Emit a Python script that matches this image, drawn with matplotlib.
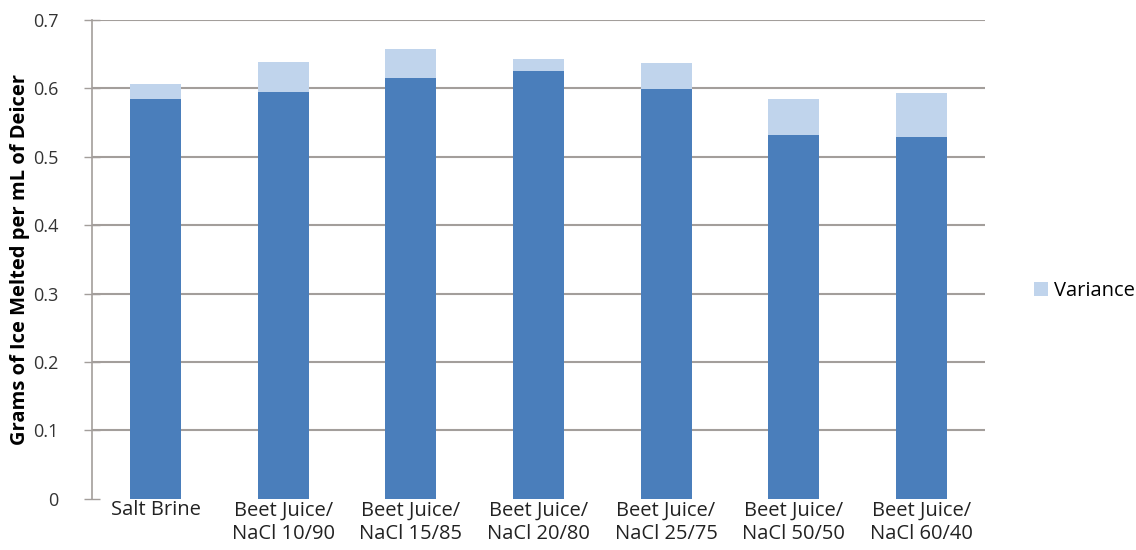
import matplotlib
matplotlib.use("Agg")
import matplotlib.pyplot as plt
import numpy as np

categories = ["Salt Brine", "Beet Juice/\nNaCl 10/90", "Beet Juice/\nNaCl 15/85", "Beet Juice/\nNaCl 20/80",
              "Beet Juice/\nNaCl 25/75", "Beet Juice/\nNaCl 50/50", "Beet Juice/\nNaCl 60/40"]
melted = [0.585, 0.594, 0.615, 0.625, 0.599, 0.531, 0.529]
variance = [0.021, 0.045, 0.043, 0.017, 0.038, 0.053, 0.064]
yticks = [0, 0.1, 0.2, 0.3, 0.4, 0.5, 0.6, 0.7]

DARK = "#4A7EBB"
LIGHT = "#C0D4EC"
GRID = "#A39E9B"

plt.rcParams["font.family"] = ["Open Sans", "DejaVu Sans"]

fig = plt.figure(figsize=(11.36, 5.5), dpi=100)
ax = fig.add_axes([0.081, 0.093, 0.786, 0.871])

x = np.arange(len(categories))
ax.bar(x, melted, width=0.4, color=DARK, zorder=2)
ax.bar(x, variance, width=0.4, bottom=melted, color=LIGHT, zorder=2, label="Variance")

ax.set_xlim(-0.5, len(categories) - 0.5)
ax.set_ylim(0, 0.7)
ax.set_yticks(yticks)
ax.set_yticklabels([f"{v:g}" for v in yticks], fontsize=13, color="#333333")
for v in yticks[1:]:
    ax.axhline(v, color=GRID, lw=1.5, zorder=1)

ax.set_xticks(x)
ax.set_xticklabels(categories, fontsize=14.5, color="#222222", linespacing=1.25)
ax.tick_params(axis="x", length=0, pad=1)
ax.tick_params(axis="y", direction="inout", length=12, width=1, color=GRID, pad=18)

for s in ["top", "right", "bottom"]:
    ax.spines[s].set_visible(False)
ax.spines["left"].set_color(GRID)
ax.spines["left"].set_linewidth(1.2)

ax.set_ylabel("Grams of Ice Melted per mL of Deicer", fontsize=14.5, fontweight="bold", labelpad=2)

ax.legend(loc="center left", bbox_to_anchor=(1.035, 0.433), frameon=False, fontsize=14.5,
          handlelength=0.7, handleheight=0.7, handletextpad=0.3)

fig.savefig("out.png", dpi=100)
